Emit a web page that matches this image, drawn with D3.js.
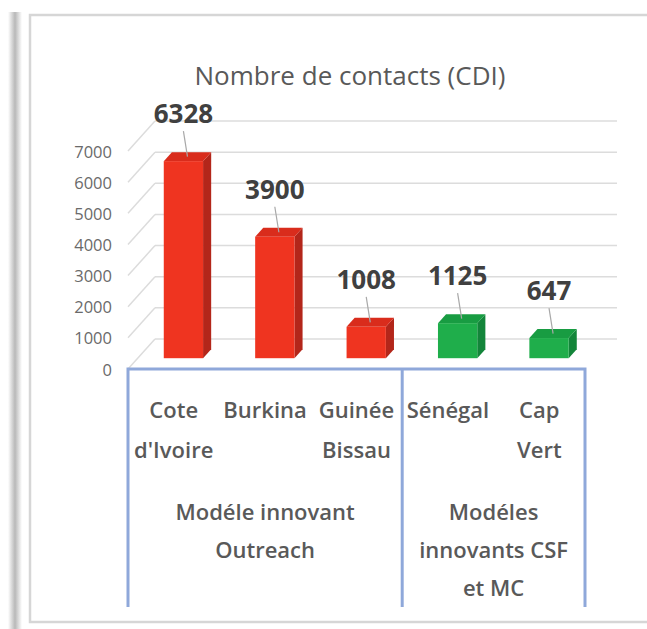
<!DOCTYPE html>
<html>
<head>
    <meta charset="utf-8"/>
    <title>Nombre de contacts (CDI)</title>
    <style>
        body {
            margin: 0;
            background: #ffffff;
            font-family: 'Open Sans', 'DejaVu Sans', sans-serif;
        }
        svg { display: block; }
        .tick-label { fill: #6a6a6a; font-size: 16.5px; }
        .title { fill: #595959; font-size: 26px; }
        .value { fill: #404040; font-size: 26px; font-weight: bold; }
        .cat { fill: #595959; font-size: 22px; font-weight: 600; }
        .grid { stroke: #dcdcdc; stroke-width: 1.5px; }
        .box { stroke: #8fa8da; stroke-width: 3px; fill: none; }
    </style>
    <script src="https://cdnjs.cloudflare.com/ajax/libs/d3/7.8.5/d3.min.js"></script>
</head>
<body>
<svg id="chart" width="647" height="629"></svg>
<script>
// data
const categories = ["Cote d'Ivoire", "Burkina", "Guinée Bissau", "Sénégal", "Cap Vert"];
const categoryLines = [["Cote", "d'Ivoire"], ["Burkina"], ["Guinée", "Bissau"], ["Sénégal"], ["Cap", "Vert"]];
const values = [6328, 3900, 1008, 1125, 647];
const barGroup = [0, 0, 0, 1, 1];
const groupLines = [["Modéle innovant", "Outreach"], ["Modéles", "innovants CSF", "et MC"]];
const groupSize = [3, 2];
const yTicks = [0, 1000, 2000, 3000, 4000, 5000, 6000, 7000];
const title = "Nombre de contacts (CDI)";

// front / side / top colours per group
const faceColors = [
    { front: "#ef3420", side: "#b3261a", top: "#d92c1c" },
    { front: "#1fae4b", side: "#13853a", top: "#189c42" }
];

const svg = d3.select("#chart");

// frame + left shadow like the screenshot
const defs = svg.append("defs");
const sh = defs.append("linearGradient").attr("id", "shadow");
sh.append("stop").attr("offset", "0%").attr("stop-color", "#ffffff");
sh.append("stop").attr("offset", "50%").attr("stop-color", "#b8b8b8");
sh.append("stop").attr("offset", "100%").attr("stop-color", "#ffffff");
svg.append("rect").attr("x", 8).attr("y", 12).attr("width", 14).attr("height", 617)
    .attr("fill", "url(#shadow)");
svg.append("rect").attr("x", 30).attr("y", 15).attr("width", 660).attr("height", 607)
    .attr("fill", "#fff").attr("stroke", "#d6d6d6").attr("stroke-width", 2.5);

// 3d geometry: depth vector from front floor edge to back wall
const depth = { dx: 27, dy: -30 };
const t0 = 0.36, t1 = 0.66;   // bar front / back in depth

const x = d3.scaleBand().domain(categories).range([128, 585]);
const y = d3.scaleLinear().domain([0, 7000]).range([369, 151]);
const barW = x.bandwidth() * 0.43;

// gridlines on back wall and side wall
const grid = svg.append("g");
yTicks.forEach(v => {
    grid.append("line").attr("class", "grid")
        .attr("x1", 128 + depth.dx).attr("x2", 617)
        .attr("y1", y(v) + depth.dy).attr("y2", y(v) + depth.dy);
    grid.append("line").attr("class", "grid")
        .attr("x1", 128).attr("x2", 128 + depth.dx)
        .attr("y1", y(v)).attr("y2", y(v) + depth.dy);
});

// y axis labels
svg.append("g").selectAll("text").data(yTicks).join("text")
    .attr("class", "tick-label")
    .attr("x", 112).attr("y", d => y(d))
    .attr("text-anchor", "end").attr("dominant-baseline", "central")
    .text(d => d);

// bars
const bars = svg.append("g");
values.forEach((v, i) => {
    const c = faceColors[barGroup[i]];
    const cx = x(categories[i]) + x.bandwidth() / 2;
    const fx0 = cx - barW / 2 + t0 * depth.dx, fx1 = fx0 + barW;
    const fyb = y(0) + t0 * depth.dy, fyt = y(v) + t0 * depth.dy;
    const ox = (t1 - t0) * depth.dx, oy = (t1 - t0) * depth.dy;

    bars.append("polygon").attr("fill", c.side)
        .attr("points", [[fx1, fyt], [fx1 + ox, fyt + oy], [fx1 + ox, fyb + oy], [fx1, fyb]].join(" "));
    bars.append("polygon").attr("fill", c.top)
        .attr("points", [[fx0, fyt], [fx1, fyt], [fx1 + ox, fyt + oy], [fx0 + ox, fyt + oy]].join(" "));
    bars.append("rect").attr("fill", c.front)
        .attr("x", fx0).attr("y", fyt).attr("width", barW).attr("height", fyb - fyt);

    // value label with leader line
    const lx = (fx0 + fx1) / 2;
    bars.append("line").attr("stroke", "#a8a8a8").attr("stroke-width", 1.2)
        .attr("x1", lx).attr("x2", lx + ox / 2)
        .attr("y1", fyt - 30).attr("y2", fyt + oy / 2);
    bars.append("text").attr("class", "value")
        .attr("x", lx).attr("y", fyt - 38)
        .attr("text-anchor", "middle")
        .text(v);
});

// category box
const split = x(categories[groupSize[0]]);
const boxTop = y(0), boxBottom = 607;
svg.append("path").attr("class", "box")
    .attr("d", `M128,${boxBottom}V${boxTop}H585V${boxBottom}M${split},${boxTop}V${boxBottom}`);

// category labels
categoryLines.forEach((lines, i) => {
    const cx = x(categories[i]) + x.bandwidth() / 2;
    lines.forEach((s, k) => {
        svg.append("text").attr("class", "cat")
            .attr("x", cx).attr("y", 418 + k * 40)
            .attr("text-anchor", "middle").text(s);
    });
});

// group labels
let start = 0;
groupLines.forEach((lines, g) => {
    const a = x(categories[start]);
    const b = x(categories[start + groupSize[g] - 1]) + x.bandwidth();
    lines.forEach((s, k) => {
        svg.append("text").attr("class", "cat")
            .attr("x", (a + b) / 2).attr("y", 520 + k * 38)
            .attr("text-anchor", "middle").text(s);
    });
    start += groupSize[g];
});

// title
svg.append("text").attr("class", "title")
    .attr("x", 350).attr("y", 85).attr("text-anchor", "middle")
    .text(title);
</script>
</body>
</html>
